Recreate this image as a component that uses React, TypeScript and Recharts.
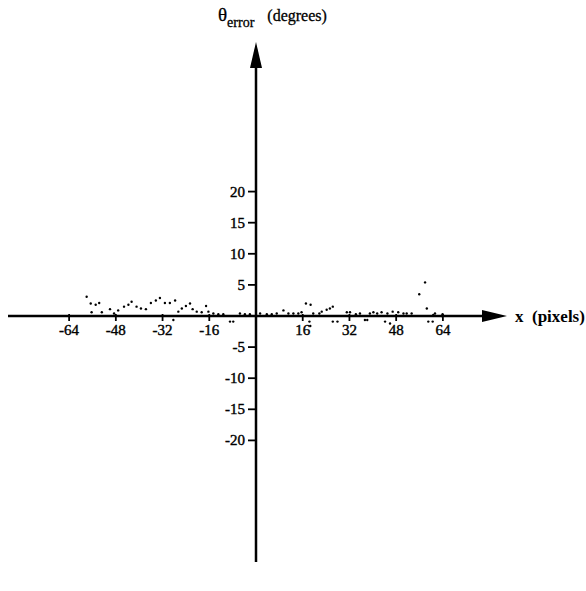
import React from "react";
import { ScatterChart, Scatter, XAxis, YAxis, ReferenceLine, ReferenceDot } from "recharts";

// position along the line (pixels) and angle error (degrees)
const xPixels = [
  -58, -56.6, -56.3, -54.9, -53.7, -52.8, -50, -48.6, -47.2, -45.2, -43.7, -42.6, -40.9,
  -39.4, -37.7, -36, -34.3, -32.9, -31.2, -29.5, -28.3, -27.7, -26.6, -25.4, -24, -22.6,
  -21.7, -20.3, -18.6, -17.1, -16.3, -14.6, -12.9, -11.2, -8.9, -7.8, -5.5, -3.8, -2.1,
  1.4, 3.7, 5.4, 7.1, 9.4, 11.1, 12.8, 14.5, 15.6, 17.1, 18.3, 18.6, 18.7, 19.6, 21.7,
  22.5, 24.2, 25.3, 26.3, 26.3, 27.9, 31.1, 32.2, 34.2, 35.6, 37.3, 38.1, 39, 40.2, 41.5,
  43, 44.2, 45, 45.9, 46.8, 48.7, 50.5, 51.6, 53.3, 55.9, 57.9, 58.5, 59, 60.5, 60.7, 61.3,
  63.6, 63.9,
];
const thetaError = [
  3.1, 2.0, 0.6, 1.8, 2.1, 0.6, 1.1, 0.4, 0.9, 1.5, 1.8, 2.3, 1.5,
  1.2, 1.1, 2.1, 2.5, 2.9, 2.1, 2.1, -0.65, 2.5, 0.7, 1.2, 1.6, 2.0,
  1.1, 0.7, 0.6, 1.6, 0.7, 0.4, 0.3, 0.3, -0.9, -0.9, 0.4, 0.3, 0.3,
  0.4, 0.3, 0.3, 0.4, 0.9, 0.4, 0.4, 0.4, 0.6, 2.0, -0.9, -1.6, 1.8, 0.4, 0.4,
  0.7, 1.0, 1.2, 1.5, -0.9, -0.9, 0.6, 0.6, 0.3, 0.4, -0.65, -0.65, 0.4, 0.6, 0.4,
  0.6, -0.9, 0.4, -1.2, 0.7, 0.6, 0.4, 0.4, 0.4, 3.5, 5.4, 1.2, -0.9, -0.9, 0.15, 0.4,
  0.0, 0.3,
];
const xTicks = [-64, -48, -32, -16, 16, 32, 48, 64];
const yTicks = [20, 15, 10, 5, -5, -10, -15, -20];

const points = xPixels.map((x, i) => ({ x, y: thetaError[i] }));

const FONT = '"Liberation Serif", "Times New Roman", serif';

const Dot = (p: any) => <circle cx={p.cx} cy={p.cy} r={1.2} fill="#000" />;

const XTick = (label: number) => (p: any) => (
  <g>
    <line x1={p.cx} y1={p.cy - 2} x2={p.cx} y2={p.cy + 5} stroke="#000" strokeWidth={1.8} />
    <text x={p.cx} y={p.cy + 19} textAnchor="middle" fontFamily={FONT} fontSize={15}
      fill="#000" stroke="#000" strokeWidth={0.4}>
      {label}
    </text>
  </g>
);

const YTick = (label: number) => (p: any) => (
  <g>
    <line x1={p.cx - 8} y1={p.cy} x2={p.cx} y2={p.cy} stroke="#000" strokeWidth={1.8} />
    <text x={p.cx - 11} y={p.cy + 5} textAnchor="end" fontFamily={FONT} fontSize={15}
      fill="#000" stroke="#000" strokeWidth={0.4}>
      {label}
    </text>
  </g>
);

const RightArrow = (p: any) => (
  <g>
    <polygon points={`${p.cx},${p.cy} ${p.cx - 25},${p.cy - 6} ${p.cx - 25},${p.cy + 6}`} fill="#000" />
    <text x={p.cx + 8} y={p.cy + 6} fontFamily={FONT} fontSize={17} fontWeight="bold" fill="#000">
      x{"\u00a0\u00a0"}(pixels)
    </text>
  </g>
);

const UpArrow = (p: any) => (
  <g>
    <polygon points={`${p.cx},${p.cy} ${p.cx - 6},${p.cy + 26} ${p.cx + 6},${p.cy + 26}`} fill="#000" />
    <text x={p.cx - 38} y={p.cy - 21} fontFamily={FONT} fill="#000" stroke="#000" strokeWidth={0.3}>
      <tspan fontSize={19}>θ</tspan>
      <tspan fontSize={14} dy={6}>error</tspan>
      <tspan fontSize={16} dy={-6} dx={13}>(degrees)</tspan>
    </text>
  </g>
);

export default function App() {
  return (
    <div style={{ position: "absolute", left: 0, top: 0, background: "#fff" }}>
      <ScatterChart width={586} height={591} margin={{ top: 0, right: 0, bottom: 0, left: 0 }}>
        <XAxis type="number" dataKey="x" hide domain={[-87.67, 113.01]} allowDataOverflow />
        <YAxis type="number" dataKey="y" hide domain={[-44.21, 50.8]} allowDataOverflow />
        <ReferenceLine
          segment={[{ x: -84.93, y: 0 }, { x: 80, y: 0 }]}
          stroke="#000"
          strokeWidth={2.5}
        />
        <ReferenceLine
          segment={[{ x: 0, y: 40 }, { x: 0, y: -39.55 }]}
          stroke="#000"
          strokeWidth={2.5}
        />
        {xTicks.map((t) => (
          <ReferenceDot key={"x" + t} x={t} y={0} r={1} shape={XTick(t)} />
        ))}
        {yTicks.map((t) => (
          <ReferenceDot key={"y" + t} x={0} y={t} r={1} shape={YTick(t)} />
        ))}
        <ReferenceDot x={85.96} y={0} r={1} shape={RightArrow} />
        <ReferenceDot x={0} y={44.05} r={1} shape={UpArrow} />
        <Scatter data={points} shape={Dot} isAnimationActive={false} />
      </ScatterChart>
    </div>
  );
}
